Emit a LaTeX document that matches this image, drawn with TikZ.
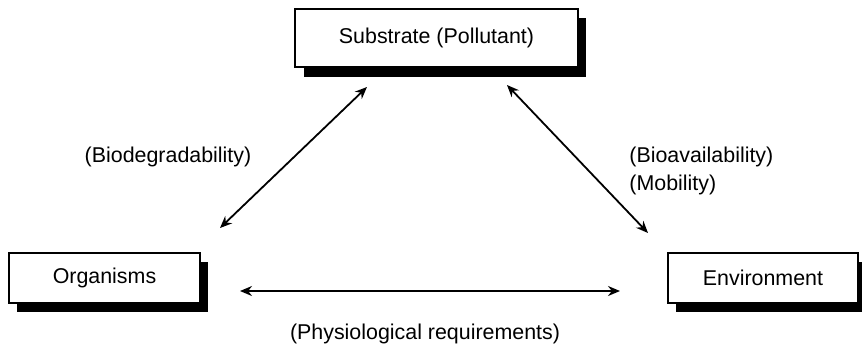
\documentclass[tikz,border=0pt]{standalone}
\usepackage{fontspec}
\setmainfont{Liberation Sans}
\usetikzlibrary{arrows.meta}
\begin{document}
\begin{tikzpicture}[x=0.5pt,y=-0.5pt,
  box/.style={draw=black,line width=0.75pt,fill=white,inner sep=0pt,
    font=\fontsize{10.7}{13}\selectfont},
  shadowbox/.style={fill=black},
  lbl/.style={font=\fontsize{10.7}{13}\selectfont,inner sep=0pt},
  link/.style={line width=0.9pt,{Stealth[length=6pt,width=5pt]}-{Stealth[length=6pt,width=5pt]}}]
\useasboundingbox (0,0) rectangle (862,355);
% shadows
\fill[shadowbox] (304,18) rectangle (586,77);
\fill[shadowbox] (17,262) rectangle (208,312);
\fill[shadowbox] (676,262) rectangle (866,312);
% boxes
\node[box,minimum width=141.5pt,minimum height=29pt] (sub) at (436.5,38) {Substrate (Pollutant)};
\node[box,minimum width=95.5pt,minimum height=25pt] (org) at (104.5,278) {Organisms};
\node[box,minimum width=95pt,minimum height=25pt] (env) at (763,278) {Environment};
% connector ends
\coordinate (l1) at (220,228);
\coordinate (l2) at (367,87);
\coordinate (r1) at (507,85);
\coordinate (r2) at (648,233);
\coordinate (h1) at (240,291);
\coordinate (h2) at (620,291);
\draw[link] (l1) -- (l2);
\draw[link] (r1) -- (r2);
\draw[link] (h1) -- (h2);
% labels
\node[lbl] (lbio) at (168,157) {(Biodegradability)};
\node[lbl,anchor=west] (lava) at (629,157) {(Bioavailability)};
\node[lbl,anchor=west] (lmob) at (629,185) {(Mobility)};
\node[lbl] (lphy) at (425,334) {(Physiological requirements)};
\end{tikzpicture}
\end{document}
